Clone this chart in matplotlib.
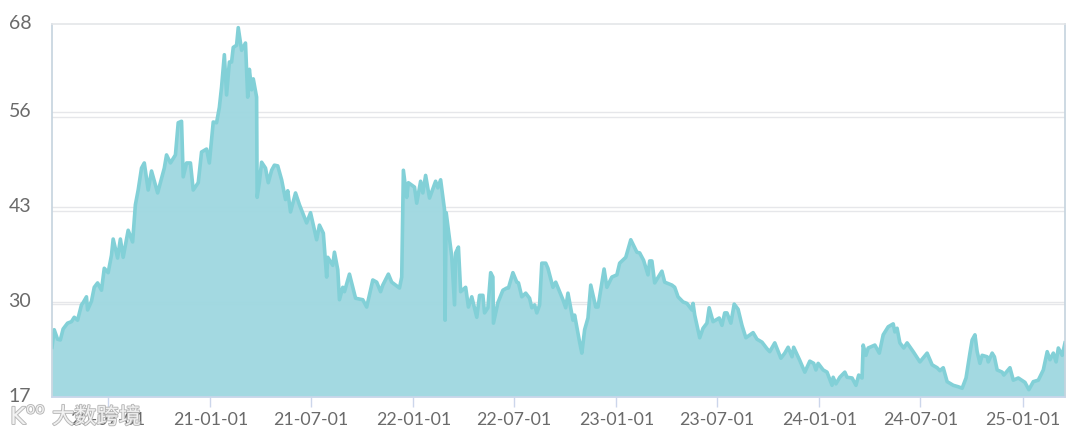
import matplotlib
matplotlib.use("Agg")
import matplotlib.pyplot as plt
import matplotlib.patheffects as pe
import pandas as pd

plt.rcParams['font.family'] = ['Lato', 'Noto Sans CJK SC', 'DejaVu Sans']

days_since_2020 = [
81,85,91,96,101,109,116,121,127,134,137,143,145,152,157,163,170,175,182,188,191,199,204,209,218,226,231,236,242,247,
254,260,271,283,287,294,303,308,314,317,323,330,335,344,350,359,364,371,377,382,386,391,395,400,404,407,413,416,422,429,
433,436,440,443,449,450,454,458,465,470,476,481,487,494,501,505,510,519,526,539,546,557,562,569,575,577,586,589,595,598,
604,607,616,627,640,647,658,665,672,676,686,692,706,710,713,719,722,733,737,744,748,753,760,771,775,780,787,788,790,800,
805,807,812,816,825,830,836,845,850,856,859,865,870,874,875,883,892,899,902,910,917,920,926,933,940,944,949,953,958,962,
969,973,982,987,993,1000,1005,1009,1018,1021,1030,1034,1039,1045,1050,1059,1063,1074,1079,1088,1097,1102,1113,1122,1133,1138,1145,1153,1156,1160,
1165,1178,1183,1196,1201,1207,1216,1223,1232,1234,1237,1246,1252,1259,1263,1270,1281,1286,1291,1295,1302,1308,1315,1322,1329,1342,1349,1358,1367,1372,
1381,1392,1399,1405,1412,1415,1426,1435,1444,1451,1455,1459,1468,1475,1484,1486,1491,1498,1507,1511,1520,1527,1532,1538,1540,1545,1549,1561,1569,1576,
1585,1594,1597,1601,1606,1613,1619,1630,1642,1655,1664,1673,1678,1684,1691,1702,1711,1718,1725,1732,1736,1741,1745,1750,1754,1763,1765,1772,1776,1781,
1790,1793,1804,1810,1819,1831,1838,1846,1855,1864,1871,1876,1882,1887,1891,1898,1903]

values = [
23.8,26.2,24.9,24.8,26.3,27.1,27.3,27.9,27.5,29.6,29.9,30.7,28.9,30.1,32.0,32.6,31.6,34.6,34.0,36.4,38.6,36.0,38.6,36.1,39.8,38.2,43.3,45.3,48.3,49.0,
45.3,47.9,44.9,48.3,50.1,49.0,50.1,54.5,54.7,47.1,49.0,49.0,45.3,46.3,50.5,50.9,49.0,54.6,54.5,56.6,59.4,63.8,58.3,62.8,62.8,64.8,65.1,67.5,64.4,65.4,
58.0,61.8,59.0,60.5,58.0,44.3,46.4,49.1,48.3,46.3,48.0,48.7,48.6,46.7,44.0,45.2,42.3,44.9,43.3,40.8,42.2,38.5,40.5,39.4,33.4,36.1,35.0,36.8,34.4,30.3,
32.0,31.4,33.8,30.5,30.3,29.3,33.0,32.7,31.4,32.3,33.8,32.7,31.9,33.4,48.0,44.3,46.3,45.7,43.5,46.5,44.9,47.3,44.2,46.5,45.6,46.7,42.6,27.5,42.2,36.2,
29.6,36.7,37.5,31.4,32.0,29.3,30.7,27.9,30.9,30.9,28.5,29.2,34.0,33.4,27.1,29.9,31.6,31.9,31.9,34.0,32.7,32.6,30.7,31.2,30.5,29.2,29.6,28.5,29.6,35.3,
35.3,34.6,32.0,32.7,31.6,30.3,29.2,31.2,27.5,28.2,24.5,23.0,26.2,27.8,32.3,29.3,29.3,34.5,32.0,33.4,33.7,35.3,36.1,38.5,36.8,36.7,35.7,33.7,35.6,35.6,
32.6,34.2,32.7,32.3,32.0,30.7,30.0,29.8,28.9,29.8,28.2,25.1,26.4,27.1,29.2,27.3,27.8,26.8,28.5,28.5,27.1,29.7,29.0,26.8,25.1,25.8,24.9,24.5,23.6,23.2,
24.4,22.3,23.0,23.8,22.5,23.8,22.0,20.4,21.9,21.6,20.7,21.6,20.7,20.4,18.6,19.7,18.8,19.7,20.4,19.7,19.6,18.6,20.0,19.6,24.1,22.7,23.7,24.1,23.0,25.5,
26.6,27.0,25.9,26.4,24.4,23.7,24.4,23.2,21.8,23.0,21.4,21.0,20.6,21.0,19.1,18.6,18.4,18.2,19.6,23.0,24.8,25.5,23.2,21.6,22.7,22.5,21.8,23.0,22.5,20.7,
20.4,20.0,21.0,19.3,19.6,19.0,18.0,19.1,19.3,20.7,23.2,22.1,23.0,21.8,23.7,22.7,24.4]

tick_dates = ["2020-07-01","2021-01-01","2021-07-01","2022-01-01","2022-07-01",
              "2023-01-01","2023-07-01","2024-01-01","2024-07-01","2025-01-01"]
tick_labels = ["20-07-01","21-01-01","21-07-01","22-01-01","22-07-01",
               "23-01-01","23-07-01","24-01-01","24-07-01","25-01-01"]
y_ticks = [17, 30, 43, 56, 68]
second_grid = [29.7, 42.4, 55.3]
watermark = "大数跨境"

W, H = 1080, 437
fig = plt.figure(figsize=(W/100, H/100), dpi=100, facecolor='white')
ax = fig.add_axes([52/W, 1-397/H, (1065-52)/W, (397-24)/H])

dates = pd.Timestamp("2020-01-01") + pd.to_timedelta(days_since_2020, unit="D")
ax.set_xlim(dates[0], dates[-1])
ax.set_ylim(17, 68)

for v in y_ticks[1:-1] + second_grid:
    ax.axhline(v, color='#e6e7ea', lw=1.0, zorder=1)

ax.fill_between(dates, values, 17, color='#9fd8e0', alpha=0.96, lw=0, zorder=2)
ax.plot(dates, values, color='#82d0d7', lw=2.6, solid_joinstyle='round', zorder=3)

ax.set_xticks(pd.to_datetime(tick_dates))
ax.set_xticklabels(tick_labels)
ax.set_yticks(y_ticks)
ax.tick_params(axis='x', length=7.5, width=1, color='#ccd6eb', labelsize=12.8,
               labelcolor='#6a6a6a', pad=3)
ax.tick_params(axis='y', length=0, labelsize=14, labelcolor='#6a6a6a', pad=15)
for lab in ax.get_yticklabels():
    lab.set_verticalalignment('center')

ax.spines['left'].set_color('#c5d3de')
ax.spines['right'].set_color('#c5d3de')
ax.spines['top'].set_color('#e4e6e9')
ax.spines['bottom'].set_color('#ccd6eb')
for s in ax.spines.values():
    s.set_linewidth(1.2)
    s.set_zorder(4)

shadow = [pe.withStroke(linewidth=1.3, foreground='#b0b0b0')]
fig.text(52/W, 1-417/H, watermark, fontsize=16, color='#f6f6f6', alpha=0.92,
         va='center', ha='left', family=['Noto Sans CJK SC', 'DejaVu Sans'],
         path_effects=shadow)
fig.text(10/W, 1-417/H, "K", fontsize=17, color='#f6f6f6', alpha=0.92,
         va='center', ha='left', family='DejaVu Sans', path_effects=shadow)
fig.text(26/W, 1-409/H, "oo", fontsize=11, color='#f6f6f6', alpha=0.92,
         va='center', ha='left', family='DejaVu Sans', path_effects=shadow)

fig.savefig("out.png", dpi=100, facecolor='white')
